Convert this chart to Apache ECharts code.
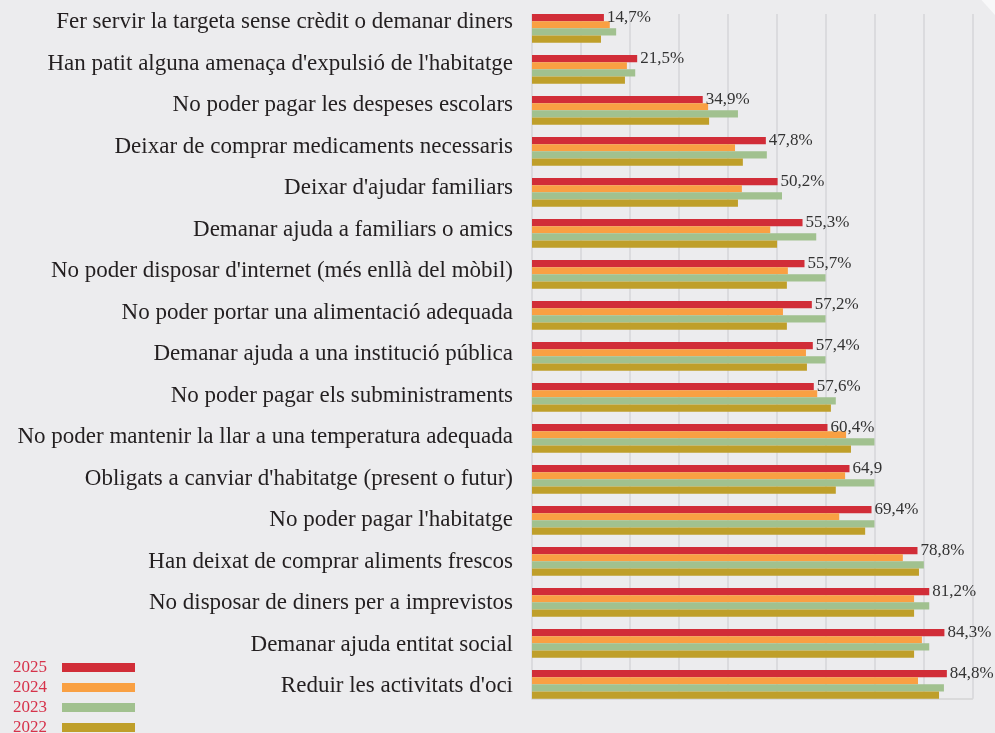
<!DOCTYPE html>
<html>
<head>
<meta charset="utf-8">
<script src="https://cdn.jsdelivr.net/npm/echarts@6/dist/echarts.min.js"></script>
<style>
html,body{margin:0;padding:0;background:#ececee;}
#chart{width:995px;height:733px;}
</style>
</head>
<body>
<div id="chart"></div>
<script>
const categories = [
  "Fer servir la targeta sense crèdit o demanar diners",
  "Han patit alguna amenaça d'expulsió de l'habitatge",
  "No poder pagar les despeses escolars",
  "Deixar de comprar medicaments necessaris",
  "Deixar d'ajudar familiars",
  "Demanar ajuda a familiars o amics",
  "No poder disposar d'internet (més enllà del mòbil)",
  "No poder portar una alimentació adequada",
  "Demanar ajuda a una institució pública",
  "No poder pagar els subministraments",
  "No poder mantenir la llar a una temperatura adequada",
  "Obligats a canviar d'habitatge (present o futur)",
  "No poder pagar l'habitatge",
  "Han deixat de comprar aliments frescos",
  "No disposar de diners per a imprevistos",
  "Demanar ajuda entitat social",
  "Reduir les activitats d'oci"
];
const years = ["2025", "2024", "2023", "2022"];
const v2025 = [14.7, 21.5, 34.9, 47.8, 50.2, 55.3, 55.7, 57.2, 57.4, 57.6, 60.4, 64.9, 69.4, 78.8, 81.2, 84.3, 84.8];
const v2024 = [15.9, 19.4, 36.0, 41.5, 42.9, 48.7, 52.3, 51.3, 56.0, 58.3, 64.2, 64.0, 62.8, 75.8, 78.1, 79.7, 78.9];
const v2023 = [17.2, 21.1, 42.1, 48.0, 51.1, 58.1, 60.0, 60.0, 60.0, 62.1, 70.0, 70.0, 70.0, 80.1, 81.2, 81.2, 84.2];
const v2022 = [14.1, 19.0, 36.2, 43.1, 42.1, 50.1, 52.1, 52.1, 56.2, 61.1, 65.2, 62.1, 68.1, 79.1, 78.1, 78.1, 83.2];
const labels2025 = ["14,7%", "21,5%", "34,9%", "47,8%", "50,2%", "55,3%", "55,7%", "57,2%", "57,4%", "57,6%", "60,4%", "64,9", "69,4%", "78,8%", "81,2%", "84,3%", "84,8%"];
const xTicks = [0, 10, 20, 30, 40, 50, 60, 70, 80, 90];

const colors = ["#d12d38", "#f9a043", "#a1c18f", "#bf9f2a"];
const serif = "'Liberation Serif', 'DejaVu Serif', serif";
const values = [v2025, v2024, v2023, v2022];

const chart = echarts.init(document.getElementById('chart'));
const option = {
  backgroundColor: '#ececee',
  animation: false,
  graphic: [{
    type: 'polygon',
    shape: { points: [[981.5, 0], [995, 0], [995, 15]] },
    style: { fill: '#f8f8f9' }
  }],
  legend: {
    orient: 'vertical',
    left: 8,
    top: 654,
    height: 120,
    align: 'right',
    itemWidth: 73,
    itemHeight: 9,
    itemGap: 3,
    icon: 'rect',
    data: years,
    textStyle: { color: '#d6324a', fontFamily: serif, fontSize: 17, padding: [0, 10, 0, 0], lineHeight: 17 }
  },
  grid: [
    { left: 532, right: 22.7, top: 7.85, height: 697, containLabel: false },
    { left: 532, right: 22.7, top: 14, height: 684.7, containLabel: false },
    { left: 532, right: 22.7, top: 1.6, height: 705.5, containLabel: false }
  ],
  xAxis: [
    { gridIndex: 0, type: 'value', min: xTicks[0], max: xTicks[xTicks.length - 1], show: false },
    {
      gridIndex: 1, type: 'value', min: xTicks[0], max: xTicks[xTicks.length - 1], interval: xTicks[1] - xTicks[0],
      axisLine: { show: true, lineStyle: { color: '#d3d3d5', width: 1.5 } },
      axisTick: { show: false }, axisLabel: { show: false },
      splitLine: { show: true, lineStyle: { color: '#d6d6d8', width: 1.5 } }
    },
    { gridIndex: 2, type: 'value', min: 0, max: 1, show: false }
  ],
  yAxis: [
    {
      gridIndex: 0, type: 'category', inverse: true, data: categories,
      axisLine: { show: false }, axisTick: { show: false }, splitLine: { show: false },
      axisLabel: { show: false }
    },
    { gridIndex: 1, type: 'value', min: 0, max: 1, show: false },
    {
      gridIndex: 2, type: 'category', inverse: true, data: categories,
      axisLine: { show: false }, axisTick: { show: false }, splitLine: { show: false },
      axisLabel: { margin: 19, color: '#231f20', fontFamily: serif, fontSize: 23 }
    }
  ],
  series: years.map((y, i) => ({
    name: y,
    type: 'bar',
    xAxisIndex: 0,
    yAxisIndex: 0,
    data: values[i],
    barWidth: 7.2,
    barGap: '0%',
    itemStyle: { color: colors[i] },
    label: i === 0 ? {
      show: true, position: 'right', distance: 3,
      color: '#333', fontFamily: serif, fontSize: 17,
      formatter: p => labels2025[p.dataIndex]
    } : { show: false }
  }))
};
chart.setOption(option);
</script>
</body>
</html>
